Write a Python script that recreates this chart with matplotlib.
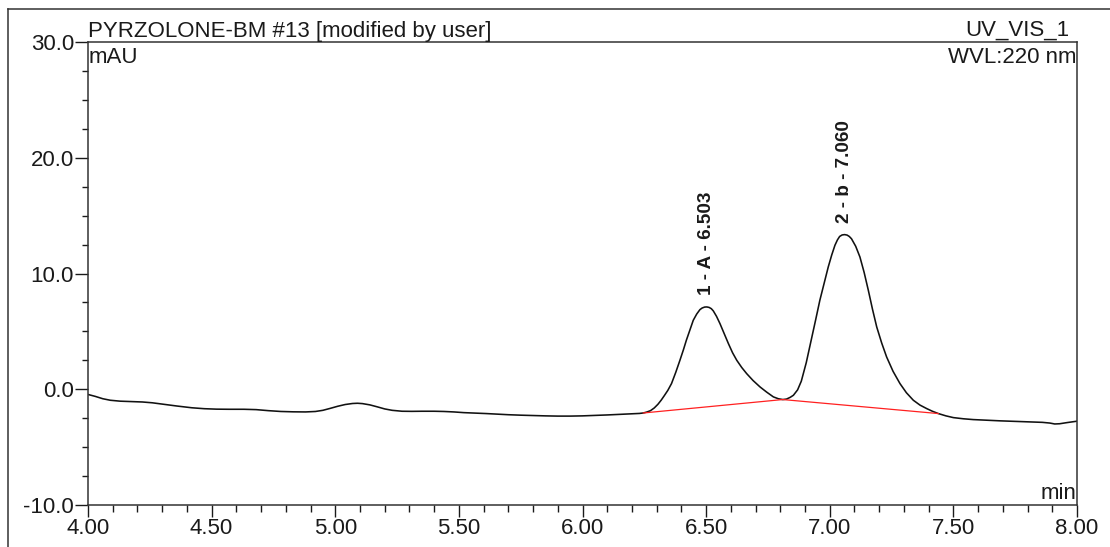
import matplotlib
matplotlib.use("Agg")
import matplotlib.pyplot as plt
from matplotlib.lines import Line2D
from matplotlib.ticker import MultipleLocator, FixedLocator

plt.rcParams['font.family'] = ['Liberation Sans', 'DejaVu Sans']

# Detector trace (retention time in min, signal in mAU)
time_min = [
    4.00, 4.03, 4.06, 4.09, 4.13, 4.18, 4.22, 4.26, 4.30, 4.36, 4.42, 4.47,
    4.52, 4.57, 4.63, 4.68, 4.73, 4.78, 4.83, 4.88, 4.92, 4.95, 4.98, 5.01,
    5.04, 5.07, 5.09, 5.11, 5.14, 5.17, 5.20, 5.23, 5.27, 5.31, 5.35, 5.40,
    5.44, 5.48, 5.52, 5.57, 5.61, 5.66, 5.70, 5.75, 5.80, 5.85, 5.90, 5.95,
    6.00, 6.05, 6.10, 6.15, 6.20, 6.23, 6.246, 6.26, 6.275, 6.29, 6.305,
    6.318, 6.33, 6.345, 6.36, 6.377, 6.394, 6.408, 6.42, 6.435, 6.448,
    6.462, 6.475, 6.484, 6.494, 6.503, 6.512, 6.521, 6.529, 6.542, 6.556,
    6.573, 6.59, 6.607, 6.624, 6.644, 6.664, 6.69, 6.718, 6.745, 6.772,
    6.792, 6.81, 6.825, 6.84, 6.853, 6.87, 6.885, 6.905, 6.925, 6.943,
    6.96, 6.978, 6.994, 7.008, 7.021, 7.031, 7.04, 7.05, 7.060, 7.07,
    7.079, 7.088, 7.105, 7.122, 7.139, 7.156, 7.173, 7.19, 7.21, 7.23,
    7.256, 7.284, 7.31, 7.338, 7.365, 7.392, 7.415, 7.439, 7.47, 7.50,
    7.54, 7.58, 7.64, 7.69, 7.76, 7.823, 7.86, 7.89, 7.91, 7.93, 7.96, 8.00,
]
signal_mau = [
    -0.45, -0.62, -0.82, -0.95, -1.03, -1.07, -1.10, -1.17, -1.28, -1.45, -1.60, -1.68,
    -1.72, -1.73, -1.73, -1.76, -1.85, -1.92, -1.95, -1.96, -1.92, -1.82, -1.65, -1.47,
    -1.32, -1.23, -1.21, -1.24, -1.35, -1.52, -1.70, -1.82, -1.90, -1.91, -1.90, -1.90,
    -1.92, -1.96, -2.02, -2.06, -2.10, -2.16, -2.20, -2.24, -2.27, -2.30, -2.32, -2.32,
    -2.30, -2.26, -2.22, -2.17, -2.12, -2.09, -2.05, -1.97, -1.85, -1.62, -1.30,
    -0.95, -0.58, -0.10, 0.49, 1.45, 2.50, 3.40, 4.23, 5.15, 5.96,
    6.50, 6.88, 7.02, 7.10, 7.11, 7.07, 6.96, 6.77, 6.30, 5.67,
    4.80, 3.95, 3.15, 2.50, 1.88, 1.35, 0.75, 0.20, -0.25, -0.66,
    -0.82, -0.89, -0.85, -0.70, -0.52, -0.05, 0.70, 2.30, 4.23, 6.00,
    7.69, 9.20, 10.57, 11.60, 12.44, 12.90, 13.20, 13.33, 13.36, 13.32,
    13.20, 13.00, 12.35, 11.43, 10.10, 8.55, 6.90, 5.38, 4.00, 2.79,
    1.55, 0.49, -0.30, -0.95, -1.37, -1.67, -1.90, -2.10, -2.30, -2.45,
    -2.55, -2.62, -2.68, -2.73, -2.78, -2.82, -2.86, -2.92, -3.00, -2.98, -2.88, -2.76,
]

# Integration baseline drawn under the two peaks
baseline_time = [6.246, 6.81, 7.439]
baseline_mau = [-2.05, -0.89, -2.10]

# Peak annotations
peak_labels = ["1 - A - 6.503", "2 - b - 7.060"]
peak_rt = [6.503, 7.060]
peak_height = [7.11, 13.36]

x_ticks = [4.00, 4.50, 5.00, 5.50, 6.00, 6.50, 7.00, 7.50, 8.00]
x_tick_labels = ["4.00", "4.50", "5.00", "5.50", "6.00", "6.50", "7.00", "7.50", "8.00"]
y_ticks = [-10.0, 0.0, 10.0, 20.0, 30.0]
y_tick_labels = ["-10.0", "0.0", "10.0", "20.0", "30.0"]

W, H = 1110, 547
fig = plt.figure(figsize=(W / 100, H / 100), dpi=100)
ax = fig.add_axes([88 / W, (H - 505) / H, (1077 - 88) / W, (505 - 42) / H])

ink = "#1a1a1a"
ax.plot(time_min, signal_mau, color="#111111", lw=1.15, solid_joinstyle="round")
ax.plot(baseline_time, baseline_mau, color="#ff2020", lw=0.9)

for lab, rt, h in zip(peak_labels, peak_rt, peak_height):
    ax.annotate(lab, xy=(rt, h), xytext=(0, 8.5), textcoords="offset points",
                rotation=90, ha="center", va="bottom", fontsize=13.6,
                fontweight="bold", color=ink)

ax.set_xlim(4.0, 8.0)
ax.set_ylim(-10.0, 30.0)

ax.xaxis.set_major_locator(FixedLocator(x_ticks))
ax.set_xticklabels(x_tick_labels)
ax.xaxis.set_minor_locator(MultipleLocator(0.1))
ax.yaxis.set_major_locator(FixedLocator(y_ticks))
ax.set_yticklabels(y_tick_labels)
ax.yaxis.set_minor_locator(MultipleLocator(2.5))

ax.tick_params(axis="x", which="major", direction="out", length=8.5, width=1.0,
               labelsize=16, pad=0.5, colors=ink)
ax.tick_params(axis="x", which="minor", direction="out", length=5, width=1.0, colors=ink)
ax.tick_params(axis="y", which="major", direction="out", length=9.5, width=1.0,
               labelsize=16, pad=0.5, colors=ink)
ax.tick_params(axis="y", which="minor", direction="out", length=4.5, width=1.0, colors=ink)

for s in ax.spines.values():
    s.set_linewidth(1.1)
    s.set_color("#333333")

# Header and unit captions
def px(x, y):
    return x / W, (H - y) / H

fig.text(*px(88, 37), "PYRZOLONE-BM #13 [modified by user]", fontsize=16,
         ha="left", va="baseline", color=ink)
fig.text(*px(1069, 36), "UV_VIS_1", fontsize=16, ha="right", va="baseline", color=ink)
fig.text(*px(89, 63), "mAU", fontsize=16, ha="left", va="baseline", color=ink)
fig.text(*px(1076, 63), "WVL:220 nm", fontsize=16, ha="right", va="baseline", color=ink)
fig.text(*px(1076, 499), "min", fontsize=16, ha="right", va="baseline", color=ink)

# Outer frame (top and left edges)
fig.add_artist(Line2D([8 / W, 1.0], [(H - 9) / H, (H - 9) / H],
                      transform=fig.transFigure, color="#333333", lw=1.1))
fig.add_artist(Line2D([8 / W, 8 / W], [0.0, (H - 9) / H],
                      transform=fig.transFigure, color="#333333", lw=1.1))

fig.savefig("out.png", dpi=100, facecolor="white")
